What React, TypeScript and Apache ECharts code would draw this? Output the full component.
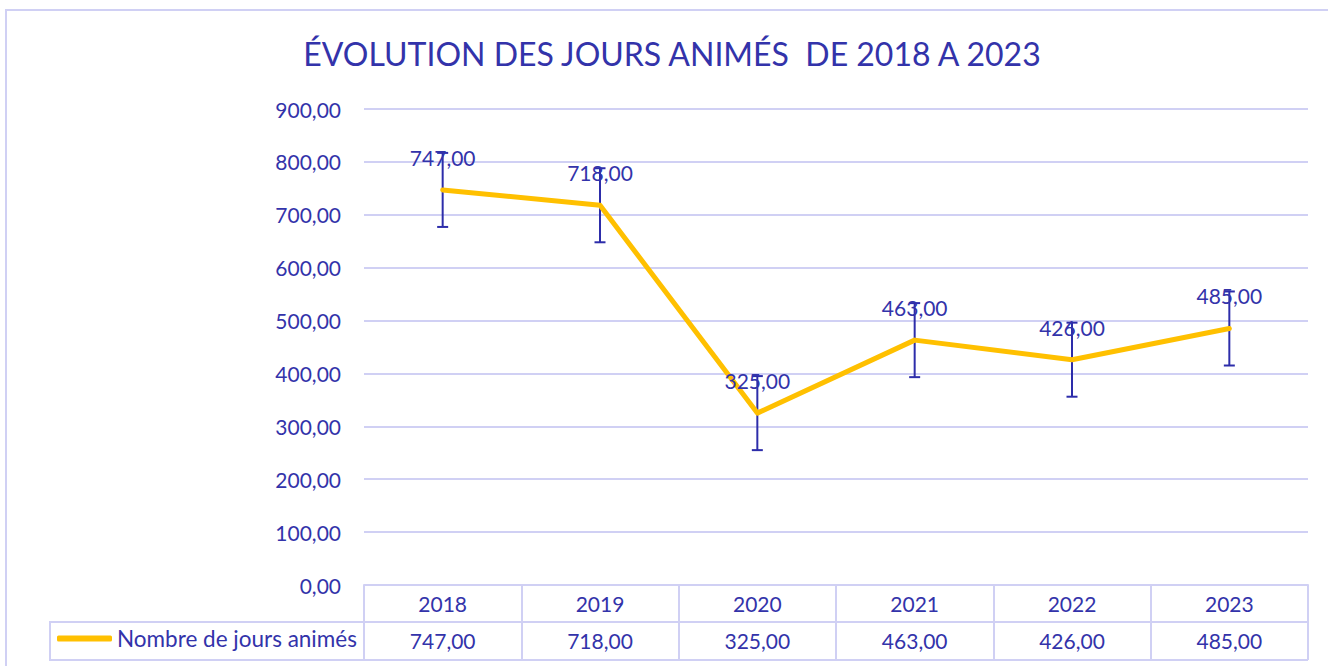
import React, { useEffect, useRef } from "react";
import * as echarts from "echarts";

const TITLE = "ÉVOLUTION DES JOURS ANIMÉS  DE 2018 A 2023";
const SERIES_NAME = "Nombre de jours animés";
const years = ["2018", "2019", "2020", "2021", "2022", "2023"];
const values = [747, 718, 325, 463, 426, 485];
const errorMargins = [70, 70, 70, 70, 70, 70];
const yTicks = { min: 0, max: 900, interval: 100 };

const TXT = "#3333AA";
const GRID = "#d0d0f4";
const LINE = "#FFC000";
const FONT = "Lato, 'Noto Sans', sans-serif";

const fmt = (v: number) => v.toFixed(2).replace(".", ",");

export default function App() {
  const ref = useRef<HTMLDivElement>(null);
  useEffect(() => {
    document.body.style.margin = "0";
    const chart = echarts.init(ref.current!, undefined, { renderer: "svg" });
    const errData = values.map((v, i) => [i, v - errorMargins[i], v + errorMargins[i]]);
    chart.setOption({
      animation: false,
      backgroundColor: "#ffffff",
      textStyle: { fontFamily: FONT },
      title: {
        text: TITLE,
        left: 672,
        textAlign: "center",
        top: 37,
        padding: 0,
        textStyle: { color: TXT, fontSize: 32, fontWeight: "normal", fontFamily: FONT },
      },
      legend: {
        data: [SERIES_NAME],
        left: 57,
        top: 627,
        padding: 0,
        icon: "roundRect",
        itemWidth: 55,
        itemHeight: 6,
        textStyle: { color: TXT, fontSize: 22.5, fontFamily: FONT },
      },
      grid: { left: 364, right: 20, top: 109, bottom: 81 },
      xAxis: [
        {
          type: "category",
          data: years,
          position: "bottom",
          boundaryGap: true,
          axisLine: { show: true, lineStyle: { color: GRID, width: 2 } },
          axisTick: { show: true, length: 75, lineStyle: { color: GRID, width: 2 } },
          axisLabel: { color: TXT, fontSize: 21, margin: 8, fontFamily: FONT },
        },
        {
          type: "category",
          data: years,
          position: "bottom",
          offset: 37,
          boundaryGap: true,
          axisLine: { show: true, lineStyle: { color: GRID, width: 2 } },
          axisTick: { show: false },
          axisLabel: {
            color: TXT,
            fontSize: 21,
            margin: 8,
            fontFamily: FONT,
            formatter: (_v: string, i: number) => fmt(values[i]),
          },
        },
      ],
      yAxis: {
        type: "value",
        min: yTicks.min,
        max: yTicks.max,
        interval: yTicks.interval,
        axisLine: { show: false },
        axisTick: { show: false },
        splitLine: { show: true, lineStyle: { color: GRID, width: 2 } },
        axisLabel: {
          color: TXT,
          fontSize: 21,
          margin: 23,
          fontFamily: FONT,
          formatter: (v: number) => fmt(v),
        },
      },
      graphic: [
        { type: "rect", shape: { x: 6, y: 10, width: 1340, height: 680 }, style: { fill: "none", stroke: GRID, lineWidth: 2 }, silent: true },
        { type: "line", shape: { x1: 50, y1: 660, x2: 1308, y2: 660 }, style: { stroke: GRID, lineWidth: 2 } },
        { type: "line", shape: { x1: 50, y1: 622, x2: 364, y2: 622 }, style: { stroke: GRID, lineWidth: 2 } },
        { type: "line", shape: { x1: 50, y1: 621, x2: 50, y2: 661 }, style: { stroke: GRID, lineWidth: 2 } },
      ],
      series: [
        {
          type: "custom",
          name: "err",
          xAxisIndex: 0,
          z: 1,
          data: errData,
          encode: { x: 0, y: [1, 2] },
          renderItem: (_p: any, api: any) => {
            const x = api.value(0);
            const lo = api.coord([x, api.value(1)]);
            const hi = api.coord([x, api.value(2)]);
            const c = 5.5;
            const st = { stroke: "#2d2daa", lineWidth: 2 };
            return {
              type: "group",
              children: [
                { type: "line", shape: { x1: lo[0], y1: lo[1], x2: hi[0], y2: hi[1] }, style: st },
                { type: "line", shape: { x1: lo[0] - c, y1: lo[1], x2: lo[0] + c, y2: lo[1] }, style: st },
                { type: "line", shape: { x1: hi[0] - c, y1: hi[1], x2: hi[0] + c, y2: hi[1] }, style: st },
              ],
            };
          },
        },
        {
          type: "line",
          name: SERIES_NAME,
          xAxisIndex: 0,
          z: 3,
          data: values,
          showSymbol: true,
          symbol: "circle",
          symbolSize: 0.1,
          itemStyle: { color: LINE },
          lineStyle: { color: LINE, width: 5, cap: "round", join: "round" },
          label: {
            show: true,
            position: "top",
            distance: 22,
            color: TXT,
            fontSize: 21,
            fontFamily: FONT,
            formatter: (p: any) => fmt(p.value),
          },
        },
      ],
    });
    return () => chart.dispose();
  }, []);
  return <div ref={ref} style={{ width: 1328, height: 666 }} />;
}
